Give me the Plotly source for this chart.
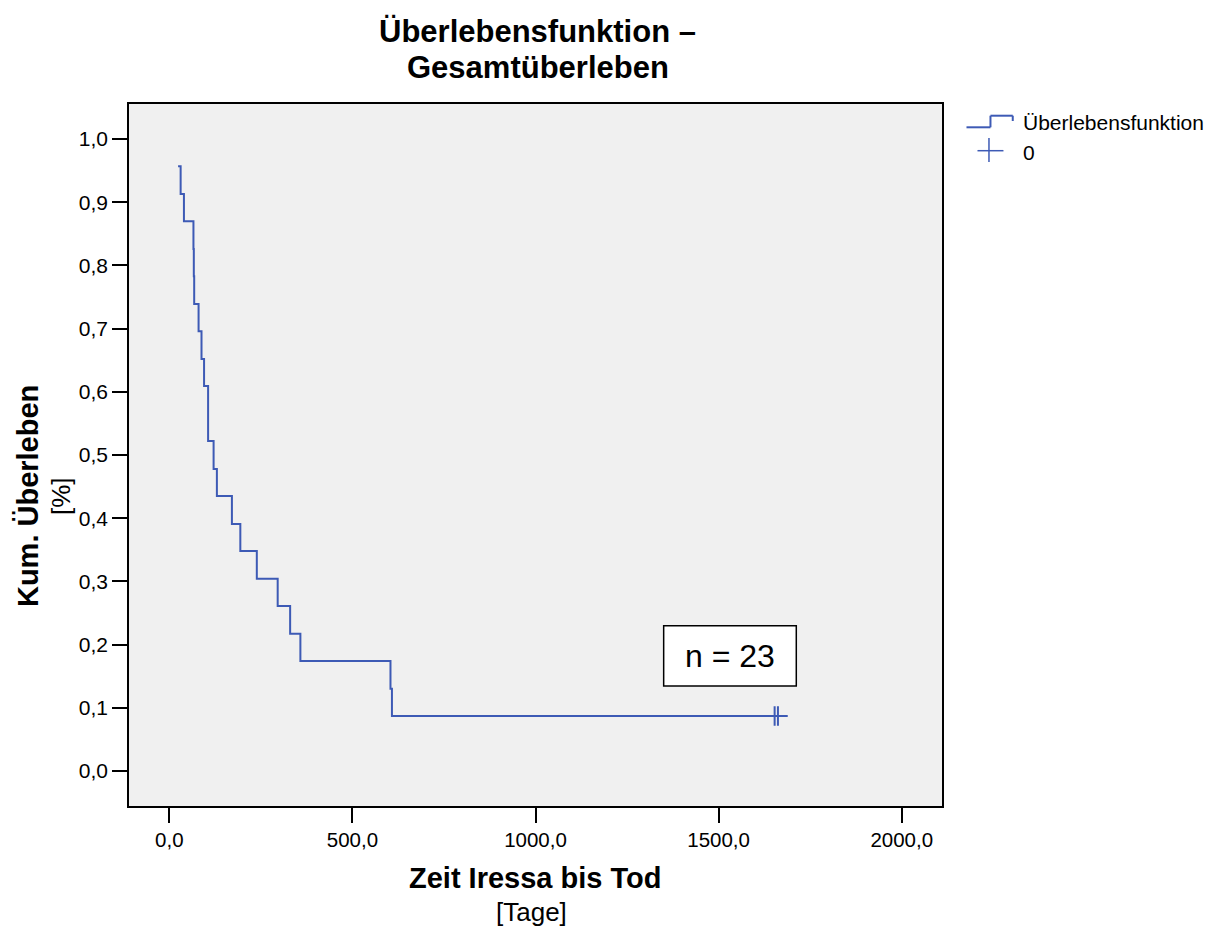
import plotly.graph_objects as go

# ---- data ----
step_time = [24, 31, 40, 66, 67, 68, 80, 88, 95, 106, 121, 130, 171, 194, 239, 296, 330, 358, 604, 608, 1662]
step_surv = [0.957, 0.913, 0.870, 0.826, 0.783, 0.739, 0.696, 0.652, 0.609, 0.522, 0.478, 0.435,
             0.391, 0.348, 0.304, 0.261, 0.217, 0.174, 0.130, 0.087, 0.087]
cens_time = [1653, 1662]
cens_surv = [0.087, 0.087]

x_tickvals = [0, 500, 1000, 1500, 2000]
x_ticktext = ["0,0", "500,0", "1000,0", "1500,0", "2000,0"]
y_tickvals = [0.0, 0.1, 0.2, 0.3, 0.4, 0.5, 0.6, 0.7, 0.8, 0.9, 1.0]
y_ticktext = ["0,0", "0,1", "0,2", "0,3", "0,4", "0,5", "0,6", "0,7", "0,8", "0,9", "1,0"]

BLUE = "#3d5ab5"
FONT = "Arial, Liberation Sans, sans-serif"

W, H = 1213, 927
L, R, T, B = 129, 942.5, 104, 806


def px(x):
    return (x - L) / (R - L)


def py(y):
    return (B - y) / (B - T)


fig = go.Figure()
fig.add_trace(go.Scatter(x=step_time, y=step_surv, mode="lines", line=dict(color=BLUE, width=2, shape="hv"),
                         showlegend=False, hoverinfo="x+y"))
fig.add_trace(go.Scatter(x=cens_time, y=cens_surv, mode="markers",
                         marker=dict(symbol="cross-thin", size=14, line=dict(color=BLUE, width=2)),
                         showlegend=False))

shapes = []
# custom legend: step icon
for (x0, y0, x1, y1) in [(967, 127.3, 991, 127.3), (991, 127.3, 991, 115.7), (991, 115.7, 1013.3, 115.7),
                         (1013.3, 115.7, 1013.3, 121)]:
    shapes.append(dict(type="line", xref="paper", yref="paper", x0=px(x0), y0=py(y0), x1=px(x1), y1=py(y1),
                       line=dict(color=BLUE, width=2)))
# plus icon
for (x0, y0, x1, y1) in [(978, 150.7, 1004, 150.7), (989.5, 138, 989.5, 162)]:
    shapes.append(dict(type="line", xref="paper", yref="paper", x0=px(x0), y0=py(y0), x1=px(x1), y1=py(y1),
                       line=dict(color=BLUE, width=1.5)))
# n = 23 box
shapes.append(dict(type="rect", xref="paper", yref="paper", x0=px(664), y0=py(686), x1=px(796.7), y1=py(625.7),
                   line=dict(color="black", width=1.5), fillcolor="white", layer="above"))


def ann(text, x, y, size, angle=0, anchor="center"):
    return dict(text=text, x=px(x), y=py(y), xref="paper", yref="paper", textangle=angle,
                xanchor=anchor, yanchor="middle", showarrow=False,
                font=dict(size=size, color="black", family=FONT))


annotations = [
    ann("<b>Überlebensfunktion –</b>", 538, 32, 31),
    ann("<b>Gesamtüberleben</b>", 538, 68, 31),
    ann("<b>Kum. Überleben</b>", 28, 496, 29, angle=-90),
    ann("[%]", 61, 496, 26, angle=-90),
    ann("<b>Zeit Iressa bis Tod</b>", 535, 878, 29),
    ann("[Tage]", 532, 912, 26),
    ann("Überlebensfunktion", 1022, 122, 21, anchor="left"),
    ann("0", 1022, 152, 21, anchor="left"),
    ann("n = 23", 730.3, 656, 32),
]

fig.update_layout(
    width=W, height=H,
    margin=dict(l=L, r=W - R, t=T, b=H - B, pad=0),
    paper_bgcolor="white", plot_bgcolor="#f0f0f0",
    font=dict(family=FONT, size=20, color="black"),
    shapes=shapes, annotations=annotations,
    showlegend=False,
    xaxis=dict(range=[-110, 2110], tickvals=x_tickvals, ticktext=x_ticktext, ticks="outside", ticklen=15,
               tickwidth=1.5, tickcolor="black", showgrid=False, zeroline=False, showline=True,
               linecolor="black", linewidth=1.5, mirror=True, tickfont=dict(size=20.5)),
    yaxis=dict(range=[-0.0554, 1.0554], tickvals=y_tickvals, ticktext=y_ticktext, ticks="outside", ticklen=15,
               tickwidth=1.5, tickcolor="black", showgrid=False, zeroline=False, showline=True,
               linecolor="black", linewidth=1.5, mirror=True, tickfont=dict(size=21)),
)

fig.write_html("out.html")
